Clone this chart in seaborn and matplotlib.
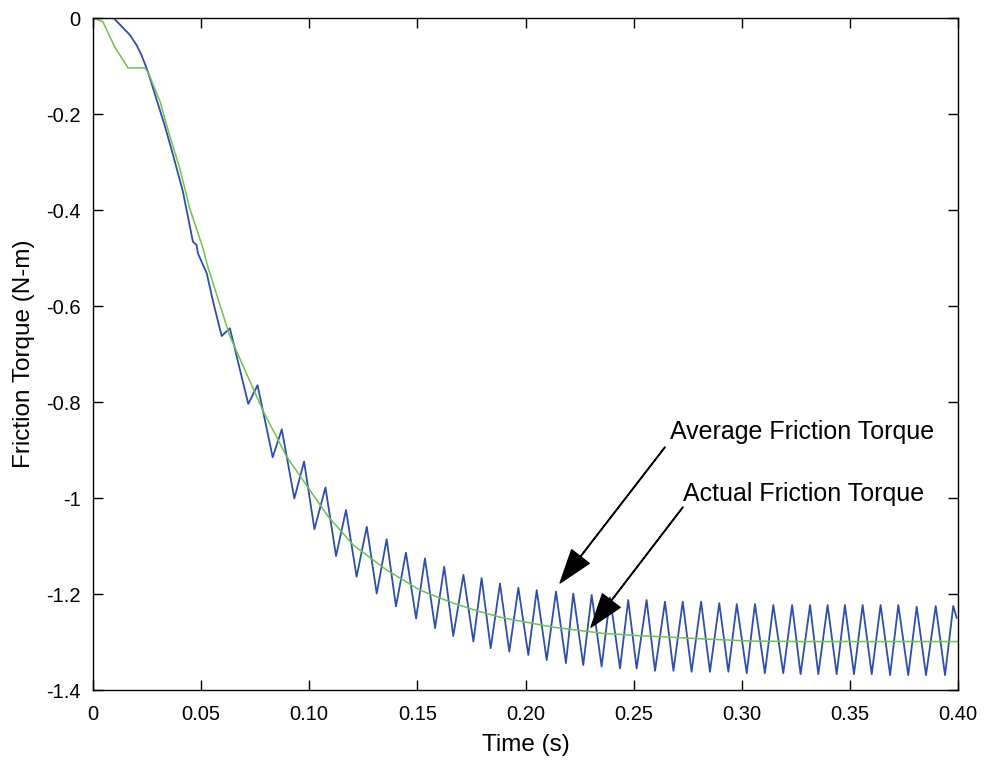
import matplotlib
matplotlib.use("Agg")
import matplotlib.pyplot as plt
import seaborn as sns
import pandas as pd

# ---- data ----
actual_t = [0.0, 0.006, 0.0095, 0.0170, 0.0201, 0.0224, 0.0254, 0.0292, 0.0331, 0.0370,
            0.0416, 0.0462, 0.0479, 0.0485, 0.0526, 0.0557, 0.0595, 0.0633, 0.0718, 0.0761,
            0.0831, 0.0873, 0.0931, 0.0976, 0.1024, 0.1075, 0.1124, 0.1170, 0.1219, 0.1266,
            0.1312, 0.1358, 0.1401, 0.1447, 0.1494, 0.1535, 0.1582, 0.1624, 0.1666, 0.1713,
            0.1759, 0.1797, 0.1839, 0.1882, 0.1925, 0.1967, 0.2013, 0.2052, 0.2098, 0.2141,
            0.2187, 0.2221, 0.2267, 0.2306, 0.2352, 0.2391, 0.2437, 0.2475, 0.2514, 0.2560,
            0.2599, 0.2645, 0.2684, 0.2727, 0.2768, 0.2812, 0.2853, 0.2896, 0.2938, 0.2977,
            0.3023, 0.3061, 0.3107, 0.3146, 0.3192, 0.3233, 0.3272, 0.3316, 0.3354, 0.3397,
            0.3439, 0.3477, 0.3519, 0.3559, 0.3601, 0.3642, 0.3686, 0.3724, 0.3770, 0.3809,
            0.3852, 0.3897, 0.3940, 0.3978, 0.3994]
actual_v = [0.0, 0.0, 0.0, -0.035, -0.056, -0.077, -0.112, -0.167, -0.223, -0.285,
            -0.362, -0.466, -0.473, -0.490, -0.532, -0.594, -0.6625, -0.6465, -0.804, -0.765,
            -0.915, -0.857, -1.001, -0.924, -1.065, -0.978, -1.121, -1.025, -1.164, -1.060,
            -1.199, -1.086, -1.226, -1.114, -1.251, -1.126, -1.271, -1.143, -1.2875, -1.160,
            -1.299, -1.167, -1.313, -1.178, -1.320, -1.187, -1.327, -1.192, -1.3375, -1.195,
            -1.344, -1.199, -1.348, -1.202, -1.351, -1.207, -1.355, -1.2125, -1.355, -1.2125,
            -1.360, -1.216, -1.360, -1.216, -1.362, -1.216, -1.362, -1.219, -1.362, -1.221,
            -1.365, -1.221, -1.365, -1.223, -1.365, -1.223, -1.367, -1.223, -1.367, -1.223,
            -1.367, -1.223, -1.367, -1.223, -1.367, -1.223, -1.369, -1.223, -1.369, -1.2265,
            -1.369, -1.225, -1.369, -1.225, -1.25]

average_t = [0.0, 0.0, 0.0046, 0.0100, 0.0139, 0.0162, 0.0240, 0.0254, 0.0310, 0.0354,
             0.0401, 0.0447, 0.0509, 0.0532, 0.0634, 0.0788, 0.0896, 0.1088, 0.1204, 0.1358,
             0.1512, 0.1666, 0.1790, 0.1898, 0.2127, 0.2358, 0.2530, 0.2630, 0.2838, 0.3040,
             0.3270, 0.4000]
average_v = [-0.14, 0.0, -0.008, -0.060, -0.0875, -0.104, -0.104, -0.1125, -0.174, -0.244,
             -0.313, -0.396, -0.480, -0.520, -0.664, -0.820, -0.914, -1.039, -1.098, -1.150,
             -1.192, -1.219, -1.237, -1.250, -1.269, -1.282, -1.287, -1.289, -1.294, -1.298,
             -1.299, -1.299]

x_ticks = [0, 0.05, 0.10, 0.15, 0.20, 0.25, 0.30, 0.35, 0.40]
x_tick_labels = ["0", "0.05", "0.10", "0.15", "0.20", "0.25", "0.30", "0.35", "0.40"]
y_ticks = [0, -0.2, -0.4, -0.6, -0.8, -1.0, -1.2, -1.4]
y_tick_labels = ["0", "-0.2", "-0.4", "-0.6", "-0.8", "-1", "-1.2", "-1.4"]

# ---- plot ----
sns.set_style("ticks")
plt.rcParams["font.family"] = ["Liberation Sans", "DejaVu Sans"]
plt.rcParams["text.color"] = "black"
plt.rcParams["axes.labelcolor"] = "black"

fig = plt.figure(figsize=(9.86, 7.63), dpi=100)
ax = fig.add_axes([93 / 986, 1 - 690 / 763, 865 / 986, 672 / 763])

df_a = pd.DataFrame({"t": actual_t, "v": actual_v})
df_g = pd.DataFrame({"t": average_t, "v": average_v})
sns.lineplot(data=df_a, x="t", y="v", ax=ax, color="#2d4fad", linewidth=1.3, sort=False,
             estimator=None)
sns.lineplot(data=df_g, x="t", y="v", ax=ax, color="#6cc44a", linewidth=1.1, sort=False,
             estimator=None)

ax.set_xlim(0, 0.40)
ax.set_ylim(-1.4, 0)
ax.set_xticks(x_ticks)
ax.set_xticklabels(x_tick_labels)
ax.set_yticks(y_ticks)
ax.set_yticklabels(y_tick_labels)
ax.tick_params(direction="in", length=7, width=1, top=True, right=True,
               labelsize=14.5, colors="black")
ax.tick_params(axis="x", pad=11)
ax.tick_params(axis="y", pad=9)
for s in ax.spines.values():
    s.set_linewidth(1.0)
    s.set_color("black")

ax.set_xlabel("Time (s)", fontsize=17.5, labelpad=7)
ax.set_ylabel("Friction Torque (N-m)", fontsize=17.5, labelpad=8)

arrow_kw = dict(facecolor="black", edgecolor="black", width=0.4, headwidth=16,
                headlength=24, shrink=0.0)
ax.annotate("", xy=(0.216, -1.177), xytext=(0.2645, -0.894), arrowprops=arrow_kw)
ax.annotate("", xy=(0.2303, -1.269), xytext=(0.2728, -1.019), arrowprops=arrow_kw)
ax.text(0.2668, -0.8625, "Average Friction Torque", fontsize=18, va="center", ha="left")
ax.text(0.2728, -0.992, "Actual Friction Torque", fontsize=18, va="center", ha="left")

fig.savefig("out.png", dpi=100)
